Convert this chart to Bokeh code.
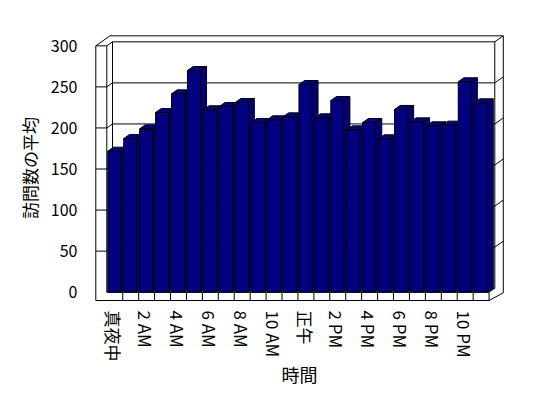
from bokeh.plotting import figure
from bokeh.models import FixedTicker, Range1d
from bokeh.embed import file_html
from bokeh.resources import INLINE

# ---- data ----
hours = ["真夜中", "1 AM", "2 AM", "3 AM", "4 AM", "5 AM", "6 AM", "7 AM",
         "8 AM", "9 AM", "10 AM", "11 AM", "正午", "1 PM", "2 PM", "3 PM",
         "4 PM", "5 PM", "6 PM", "7 PM", "8 PM", "9 PM", "10 PM", "11 PM"]
visits = [171.7, 187.1, 198.9, 218.8, 241.5, 269.9, 222.1, 226.1,
          231.0, 206.6, 209.9, 213.5, 252.9, 212.3, 233.4, 197.7,
          206.6, 186.8, 222.5, 207.4, 202.6, 203.4, 256.2, 230.6]
y_ticks = [0, 50, 100, 150, 200, 250, 300]
x_label_every = 2
y_title = "訪問数の平均"
x_title = "時間"

# ---- layout constants (pixels -> data units) ----
PX_X = 15.93     # px per category
PX_Y = 0.8213    # px per value unit
LEFT = -0.45     # left edge of first category
DX1, DY1 = 5.7 / PX_X, 4.0 / PX_Y      # depth of plot box
DX2, DY2 = 8.5 / PX_X, 6.0 / PX_Y      # back wall thickness
LW = 11.0 / PX_X                        # left wall thickness
FT = 8.3 / PX_Y                         # floor thickness
FLOOR_BACK = -FT + 7.7 / PX_Y
BAR_OFF = 1.0 / PX_X
BAR_W = 13.4 / PX_X
VMAX = y_ticks[-1]
N = len(visits)
x0, x1 = LEFT, LEFT + N

FONT = "Noto Sans CJK JP"
NAVY = "#000080"

p = figure(width=548, height=398, output_backend="svg", toolbar_location=None,
           x_range=Range1d(-0.835 + LEFT, 25.03 + LEFT),
           y_range=Range1d(-12.54, 315.0),
           min_border_left=93, min_border_right=43,
           min_border_top=33, min_border_bottom=96)
p.xgrid.visible = False
p.ygrid.visible = False
p.outline_line_color = None
p.background_fill_color = "white"
p.border_fill_color = "white"

# ---- box lines ----
lx, ly = [], []
def seg(pts):
    lx.append([q[0] for q in pts])
    ly.append([q[1] for q in pts])

seg([(x0 - LW, -FT), (x0 - LW, VMAX), (x0, VMAX), (x0, 0)])
seg([(x0 - LW, VMAX), (x0 - LW + DX1 + DX2, VMAX + DY1 + DY2)])
seg([(x0, VMAX), (x0 + DX1, VMAX + DY1)])
seg([(x0 - LW + DX1 + DX2, VMAX + DY1 + DY2), (x1 + DX1 + DX2, VMAX + DY1 + DY2),
     (x1 + DX1 + DX2, FLOOR_BACK)])
seg([(x0 + DX1, DY1), (x0 + DX1, VMAX + DY1), (x1 + DX1, VMAX + DY1), (x1 + DX1, DY1)])
seg([(x1 + DX1, VMAX + DY1), (x1 + DX1 + DX2, VMAX + DY1 + DY2)])
seg([(x0 - LW, -FT), (x1, -FT), (x1, 0), (x0, 0)])
seg([(x1, 0), (x1 + DX1, DY1)])
seg([(x1, -FT), (x1 + DX1 + DX2, FLOOR_BACK)])
seg([(x0 + DX1, DY1), (x1 + DX1, DY1)])
for k in range(1, N):
    seg([(x0 + k, -FT), (x0 + k, 0)])
for v in y_ticks[1:-1]:
    seg([(x0 - LW, v), (x0, v), (x0 + DX1, v + DY1), (x1 + DX1, v + DY1),
         (x1 + DX1 + DX2, v + DY1 + DY2)])
p.multi_line(lx, ly, line_color="black", line_width=1)

# ---- 3D bars ----
bx, by = [], []
for i, v in enumerate(visits):
    a = x0 + i + BAR_OFF
    b = a + BAR_W
    bx.append([a, b, b, a]); by.append([0, 0, v, v])
    bx.append([a, b, b + DX1, a + DX1]); by.append([v, v, v + DY1, v + DY1])
    bx.append([b, b + DX1, b + DX1, b]); by.append([0, DY1, v + DY1, v])
p.patches(bx, by, fill_color=NAVY, line_color="black", line_width=1)

# ---- axes ----
ticks = list(range(0, N, x_label_every))
p.xaxis.ticker = FixedTicker(ticks=ticks)
p.xaxis.major_label_overrides = {t: hours[t] for t in ticks}
p.xaxis.major_label_orientation = "vertical"
p.yaxis.ticker = FixedTicker(ticks=y_ticks)
for ax in (p.xaxis[0], p.yaxis[0]):
    ax.axis_line_color = None
    ax.major_tick_line_color = None
    ax.minor_tick_line_color = None
    ax.major_label_text_font = FONT
    ax.major_label_text_color = "black"
    ax.axis_label_text_font = FONT
    ax.axis_label_text_font_style = "normal"
    ax.axis_label_text_color = "black"
p.xaxis.major_label_text_font_size = "17px"
p.yaxis.major_label_text_font_size = "16px"
p.xaxis.major_label_standoff = 2
p.yaxis.major_label_standoff = 10
p.xaxis.axis_label = x_title
p.yaxis.axis_label = y_title
p.xaxis.axis_label_text_font_size = "18px"
p.yaxis.axis_label_text_font_size = "17px"
p.xaxis.axis_label_standoff = -3
p.yaxis.axis_label_standoff = 6

open("out.html", "w").write(file_html(p, INLINE))
